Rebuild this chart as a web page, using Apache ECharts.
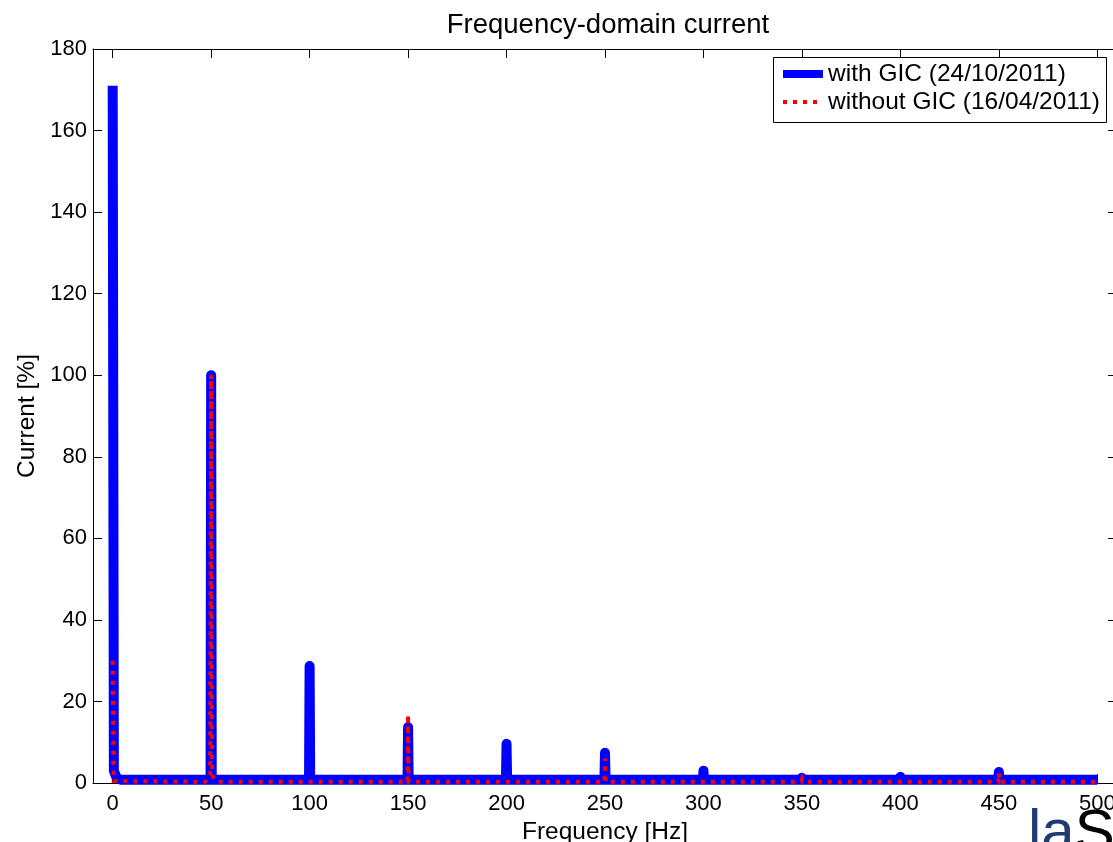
<!DOCTYPE html>
<html>
<head>
<meta charset="utf-8">
<script src="https://cdn.jsdelivr.net/npm/echarts@6/dist/echarts.min.js"></script>
<style>
html,body{margin:0;padding:0;background:#fff;}
#c{width:1113px;height:842px;}
</style>
</head>
<body>
<div id="c"></div>
<script>
// ---- data ----
const xTicks = [0, 50, 100, 150, 200, 250, 300, 350, 400, 450, 500];
const yTicks = [0, 20, 40, 60, 80, 100, 120, 140, 160, 180];

const blueFreq = [0, 0.6, 2, 4, 49.7, 50, 50.3, 99.7, 100, 100.3, 149.7, 150, 150.3, 199.7, 200, 200.3, 249.7, 250, 250.3, 299.7, 300, 300.3, 349.7, 350, 350.3, 399.7, 400, 400.3, 449.7, 450, 450.3, 500];
const blueVal  = [171, 3, 1.2, 0.8, 0.8, 100, 0.8, 0.8, 28.7, 0.8, 0.8, 13.7, 0.8, 0.8, 9.6, 0.8, 0.8, 7.4, 0.8, 0.8, 3.0, 0.8, 0.8, 1.3, 0.8, 0.8, 1.5, 0.8, 0.8, 2.7, 0.8, 0.8];

const redFreq = [0, 0.5, 1.5, 47, 48.5, 49.5, 50, 50.5, 51.5, 53, 149.7, 150, 150.3, 249.7, 250, 250.3, 349.7, 350, 350.3, 399.7, 400, 400.3, 449.7, 450, 450.3, 500];
const redVal  = [30, 0.5, 0.3, 0.3, 1, 2, 100, 2, 1, 0.3, 0.3, 16.7, 0.3, 0.3, 6, 0.3, 0.3, 0.8, 0.3, 0.3, 0.6, 0.3, 0.3, 2.5, 0.3, 0.3];

const seriesNames = ['with GIC (24/10/2011)', 'without GIC (16/04/2011)'];

const FONT = 'Liberation Sans, Arial, sans-serif';
const chart = echarts.init(document.getElementById('c'), null, {renderer: 'canvas'});

const axLine = {show: true, onZero: false, lineStyle: {color: '#000', width: 1}};
const xBase = {
  type: 'value', min: -10, max: 510,
  axisLine: axLine,
  splitLine: {show: false},
  axisTick: {show: true, inside: true, length: 9, lineStyle: {color: '#000'}, customValues: xTicks},
};
const yBase = {
  type: 'value', min: 0, max: 180, interval: 20,
  axisLine: axLine,
  splitLine: {show: false},
  axisTick: {show: true, inside: true, length: 9, lineStyle: {color: '#000'}},
};

chart.setOption({
  animation: false,
  backgroundColor: '#fff',
  title: {
    text: 'Frequency-domain current', left: 603, top: 6, textAlign: 'center',
    textStyle: {fontFamily: FONT, fontSize: 27.5, fontWeight: 'normal', color: '#000'}
  },
  grid: {left: 93, right: -4, top: 49, bottom: 59, containLabel: false, outerBoundsMode: 'none'},
  xAxis: [
    Object.assign({}, xBase, {
      position: 'bottom',
      name: 'Frequency [Hz]', nameLocation: 'middle', nameGap: 34,
      nameTextStyle: {fontFamily: FONT, fontSize: 24.5, color: '#000'},
      axisLabel: {show: true, customValues: xTicks, margin: 10, fontFamily: FONT, fontSize: 22, color: '#000'}
    }),
    Object.assign({}, xBase, {position: 'top', axisLabel: {show: false}})
  ],
  yAxis: [
    Object.assign({}, yBase, {
      position: 'left',
      name: 'Current [%]', nameLocation: 'middle', nameGap: 52,
      nameTextStyle: {fontFamily: FONT, fontSize: 24.5, color: '#000'},
      axisLabel: {show: true, margin: 6, fontFamily: FONT, fontSize: 22, color: '#000'}
    }),
    Object.assign({}, yBase, {position: 'right', axisLabel: {show: false}})
  ],
  series: [
    {
      name: seriesNames[0], type: 'line', xAxisIndex: 0, yAxisIndex: 0,
      data: blueFreq.map((f, i) => [f, blueVal[i]]),
      showSymbol: false, clip: false, z: 2,
      lineStyle: {color: '#0000ff', width: 10, cap: 'butt', join: 'round'}
    },
    {
      name: seriesNames[1], type: 'line', xAxisIndex: 0, yAxisIndex: 0,
      data: redFreq.map((f, i) => [f, redVal[i]]),
      showSymbol: false, clip: false, z: 3,
      lineStyle: {color: '#ff0000', width: 4, type: [4, 6], cap: 'butt', join: 'miter'}
    }
  ],
  graphic: [
    {type: 'rect', shape: {x: 773.5, y: 57.5, width: 333, height: 65}, style: {fill: '#fff', stroke: '#000', lineWidth: 1}, z: 100},
    {type: 'line', shape: {x1: 783, y1: 74, x2: 823, y2: 74}, style: {stroke: '#0000ff', lineWidth: 8}, z: 101},
    {type: 'line', shape: {x1: 783, y1: 102, x2: 823, y2: 102}, style: {stroke: '#ff0000', lineWidth: 4, lineDash: [4, 6]}, z: 101},
    {type: 'text', x: 828, y: 74, style: {text: seriesNames[0], fontFamily: FONT, fontSize: 24.5, fill: '#000', verticalAlign: 'middle'}, z: 101},
    {type: 'text', x: 828, y: 102, style: {text: seriesNames[1], fontFamily: FONT, fontSize: 24.5, fill: '#000', verticalAlign: 'middle'}, z: 101},
    {type: 'text', x: 1028, y: 804, style: {
      text: '{a|la}{b|S}', verticalAlign: 'top',
      rich: {a: {fontFamily: FONT, fontSize: 60, fill: '#1f3c70'}, b: {fontFamily: FONT, fontSize: 60, fill: '#000'}}
    }, z: 101}
  ]
});
</script>
</body>
</html>
